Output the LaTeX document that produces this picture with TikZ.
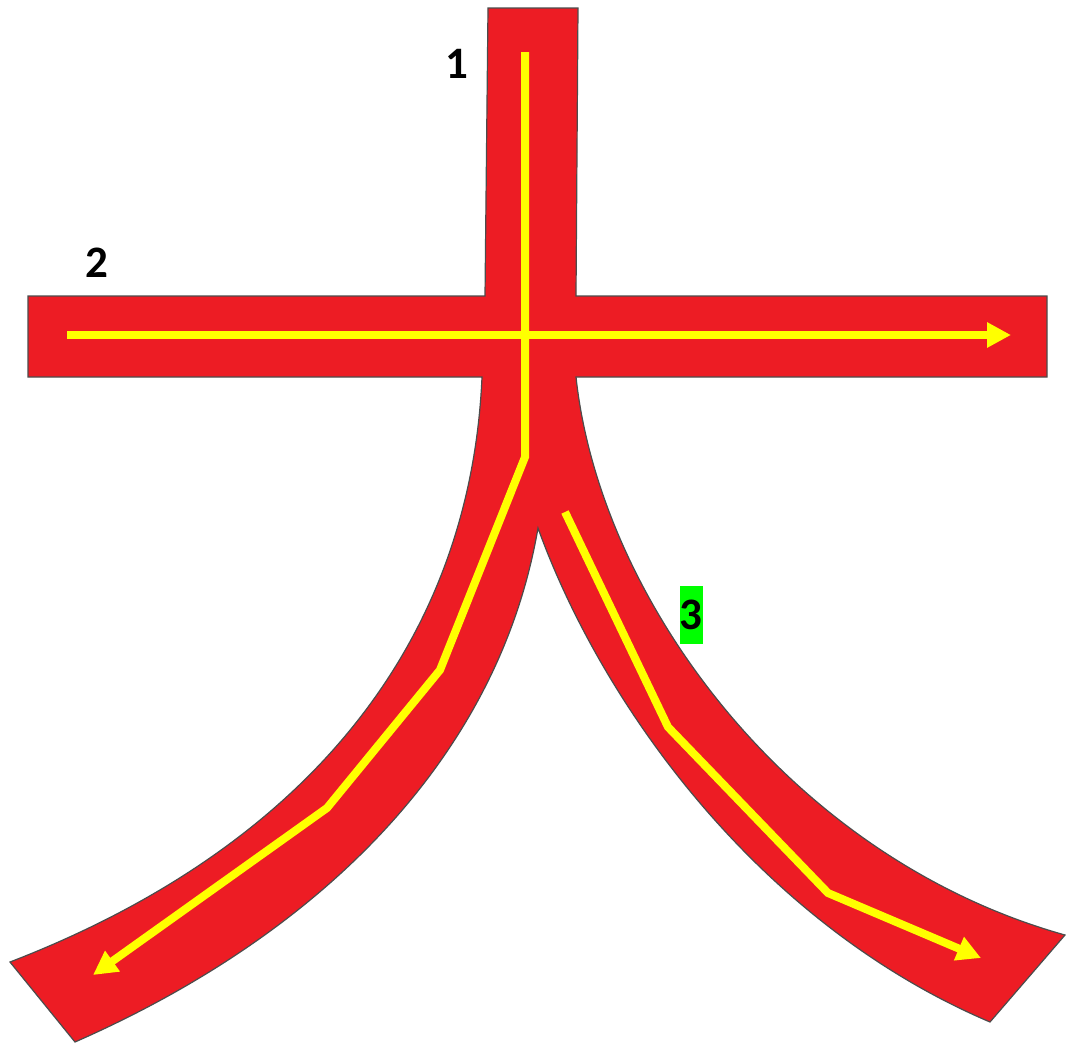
\documentclass[tikz,border=0pt]{standalone}
\usepackage{fontspec}
\setmainfont{Carlito}
\usetikzlibrary{arrows.meta}
\definecolor{hanred}{RGB}{237,28,36}
\definecolor{pathyellow}{RGB}{255,255,0}
\definecolor{taggreen}{RGB}{0,255,0}
\begin{document}
\begin{tikzpicture}[x=1pt,y=-1pt,
  glyph/.style={fill=hanred, draw=black!70, line width=1.2pt, line join=miter},
  guide/.style={draw=pathyellow, line width=8pt},
  guidearrow/.style={guide, -{Triangle[length=24pt,width=24pt]}},
  numlabel/.style={font=\bfseries\fontsize{45}{45}\selectfont, inner sep=0pt}]
\useasboundingbox (0,0) rectangle (1066,1045);

% red glyph
\path[glyph] (488,8) -- (578,8) -- (576,296) -- (1047,296) -- (1047,377) -- (576,377)
  .. controls (600,600) and (790,858) .. (1065,935)
  -- (990,1022)
  .. controls (755,922) and (600,700) .. (538,528)
  .. controls (500,750) and (330,930) .. (75,1042)
  -- (10,962)
  .. controls (300,850) and (470,650) .. (482,377)
  -- (28,377) -- (28,296) -- (485,296) -- cycle;

% guide points
\coordinate (v0) at (525,52);
\coordinate (v1) at (525,457);
\coordinate (l1) at (440,670);
\coordinate (l2) at (327,808);
\coordinate (l3) at (93,975);
\coordinate (h0) at (67,335);
\coordinate (h1) at (1011,335);
\coordinate (r0) at (565,512);
\coordinate (r1) at (668,727);
\coordinate (r2) at (828,893);
\coordinate (r3) at (981,958);

\draw[guidearrow] (v0) -- (v1) -- (l1) -- (l2) -- (l3);
\draw[guidearrow] (h0) -- (h1);
\draw[guidearrow] (r0) -- (r1) -- (r2) -- (r3);

% labels
\node[numlabel] (n1) at (457,64) {1};
\node[numlabel] (n2) at (97,263) {2};
\node[numlabel, fill=taggreen, minimum width=23pt, minimum height=58pt] (n3) at (691,615) {3};
\end{tikzpicture}
\end{document}
